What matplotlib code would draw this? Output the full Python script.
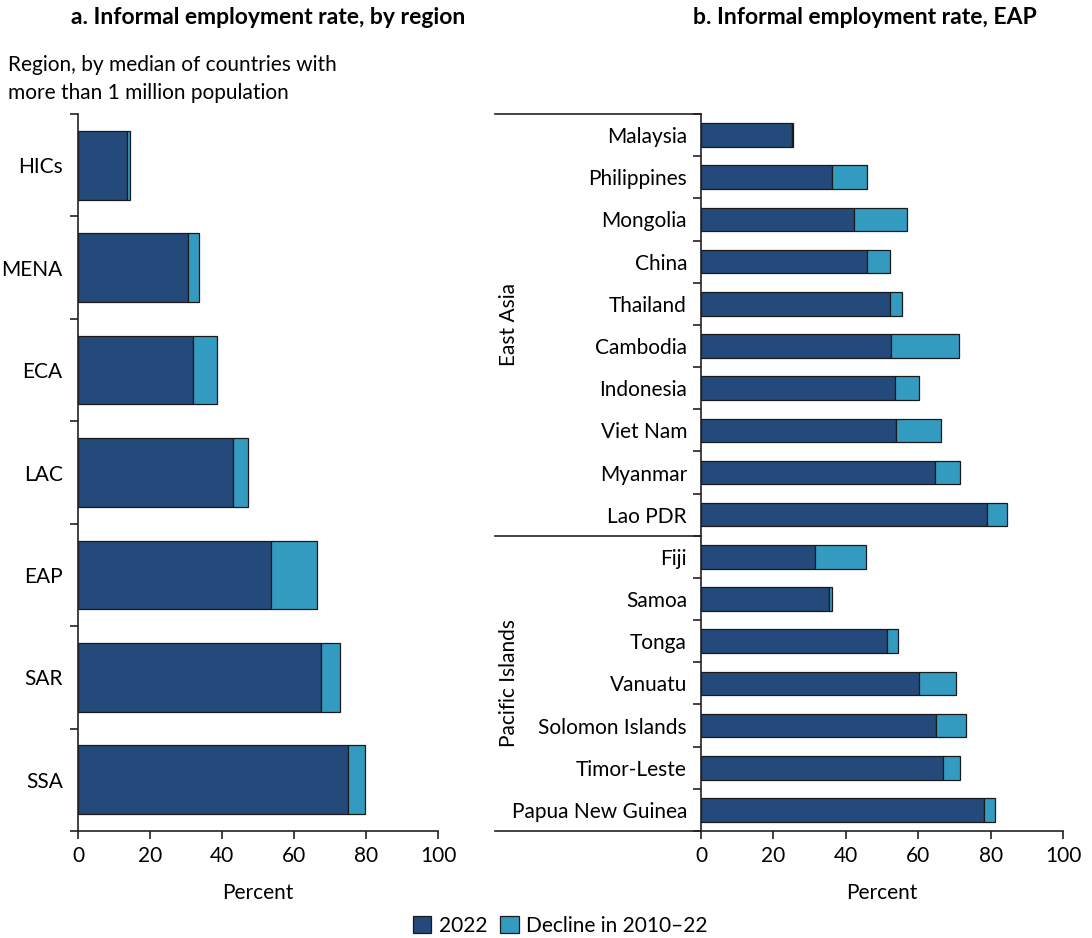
import matplotlib
matplotlib.use("Agg")
import matplotlib.pyplot as plt
from matplotlib.patches import Patch
import numpy as np

plt.rcParams['font.family'] = ['Lato', 'DejaVu Sans']

# ---- data ----
regions = ["HICs", "MENA", "ECA", "LAC", "EAP", "SAR", "SSA"]
region_2022 = [13.6, 30.5, 32.0, 43.0, 53.5, 67.6, 75.1]
region_decline = [0.9, 3.0, 6.6, 4.1, 12.8, 5.3, 4.5]

countries = ["Malaysia", "Philippines", "Mongolia", "China", "Thailand", "Cambodia",
             "Indonesia", "Viet Nam", "Myanmar", "Lao PDR",
             "Fiji", "Samoa", "Tonga", "Vanuatu", "Solomon Islands", "Timor-Leste",
             "Papua New Guinea"]
country_2022 = [25.1, 36.2, 42.4, 45.9, 52.2, 52.4, 53.5, 54.0, 64.6, 79.0,
                31.5, 35.4, 51.5, 60.3, 64.9, 66.9, 78.3]
country_decline = [0.3, 9.7, 14.6, 6.3, 3.4, 18.9, 6.8, 12.3, 7.0, 5.6,
                   14.1, 0.8, 3.0, 10.2, 8.2, 4.7, 2.9]
groups = ["East Asia", "Pacific Islands"]
group_sizes = [10, 7]

xticks = [0, 20, 40, 60, 80, 100]
legend_labels = ["2022", "Decline in 2010\u201322"]

DARK = "#234a7b"
LIGHT = "#339bc0"
EDGE = "#1a1a1a"

W, H = 1092, 938
fig = plt.figure(figsize=(W / 100, H / 100), dpi=100)

def px_axes(x0, y0, x1, y1):
    return fig.add_axes([x0 / W, 1 - y1 / H, (x1 - x0) / W, (y1 - y0) / H])

FS = 15

def style(ax, n, labels, pad):
    ax.set_xlim(0, 100)
    ax.set_ylim(n - 0.5, -0.5)
    for s in ["top", "right"]:
        ax.spines[s].set_visible(False)
    for s in ["left", "bottom"]:
        ax.spines[s].set_linewidth(1.2)
        ax.spines[s].set_color("#222222")
    ax.set_yticks(np.arange(-0.5, n, 1.0))
    ax.set_yticklabels([])
    ax.set_yticks(np.arange(n), minor=True)
    ax.set_yticklabels(labels, minor=True, fontsize=FS)
    ax.tick_params(axis="y", which="major", direction="out", length=6, width=1.2, color="#222222")
    ax.tick_params(axis="y", which="minor", length=0, pad=pad)
    ax.set_xticks(xticks)
    ax.set_xticklabels([str(t) for t in xticks], fontsize=FS)
    ax.tick_params(axis="x", direction="out", length=6, width=1.2, color="#222222", pad=5)
    ax.set_xlabel("Percent", fontsize=FS, labelpad=12)

# ---- panel a ----
axa = px_axes(78, 114, 438, 831)
ya = np.arange(len(regions))
axa.barh(ya, region_2022, height=0.67, color=DARK, edgecolor=EDGE, linewidth=0.9)
axa.barh(ya, region_decline, left=region_2022, height=0.67, color=LIGHT, edgecolor=EDGE, linewidth=0.9)
style(axa, len(regions), regions, 11)

# ---- panel b ----
axb = px_axes(701, 114, 1063, 831)
yb = np.arange(len(countries))
axb.barh(yb, country_2022, height=0.56, color=DARK, edgecolor=EDGE, linewidth=0.9)
axb.barh(yb, country_decline, left=country_2022, height=0.56, color=LIGHT, edgecolor=EDGE, linewidth=0.9)
style(axb, len(countries), countries, 10)

# group separators and labels
xl = (495 - 701) / (1063 - 701)
tr = axb.get_yaxis_transform()
start = -0.5
for g, size in zip(groups, group_sizes):
    axb.plot([xl, 0], [start, start], transform=tr, color="#222222", lw=1.2, clip_on=False)
    axb.text(xl + 0.04, start + size / 2, g, transform=tr, rotation=90,
             ha="center", va="center", fontsize=FS)
    start += size
axb.plot([xl, 0], [start, start], transform=tr, color="#222222", lw=1.2, clip_on=False)

# ---- titles ----
fig.text(268 / W, 1 - 18 / H, "a. Informal employment rate, by region",
         ha="center", va="center", fontsize=16.5, fontweight="bold")
fig.text(865 / W, 1 - 18 / H, "b. Informal employment rate, EAP",
         ha="center", va="center", fontsize=16.5, fontweight="bold")
fig.text(8 / W, 1 - 79 / H, "Region, by median of countries with\nmore than 1 million population",
         ha="left", va="center", fontsize=FS, linespacing=1.55)

# ---- legend ----
handles = [Patch(facecolor=DARK, edgecolor=EDGE, linewidth=0.9),
           Patch(facecolor=LIGHT, edgecolor=EDGE, linewidth=0.9)]
fig.legend(handles, legend_labels, loc="center", bbox_to_anchor=(560 / W, 1 - 926 / H),
           ncol=2, frameon=False, fontsize=FS, handlelength=0.9, handleheight=0.9,
           handletextpad=0.35, columnspacing=0.6)

fig.savefig("out.png", dpi=100)
